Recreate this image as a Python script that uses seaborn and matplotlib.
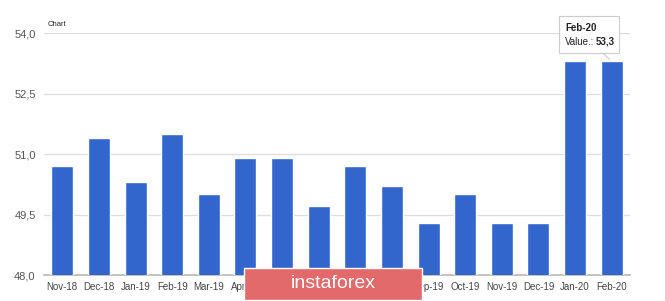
import matplotlib
matplotlib.use("Agg")
import matplotlib.pyplot as plt
import seaborn as sns
import pandas as pd

months = ["Nov-18", "Dec-18", "Jan-19", "Feb-19", "Mar-19", "Apr-19", "May-19", "Jun-19",
          "Jul-19", "Aug-19", "Sep-19", "Oct-19", "Nov-19", "Dec-19", "Jan-20", "Feb-20"]
values = [50.7, 51.4, 50.3, 51.5, 50.0, 50.9, 50.9, 49.7,
          50.7, 50.2, 49.3, 50.0, 49.3, 49.3, 53.3, 53.3]
yticks = [48.0, 49.5, 51.0, 52.5, 54.0]
ytick_labels = ["48,0", "49,5", "51,0", "52,5", "54,0"]

df = pd.DataFrame({"month": months, "value": values})

sns.set_theme(style="white")
plt.rcParams['font.family'] = ['Liberation Sans', 'DejaVu Sans']

fig = plt.figure(figsize=(6.65, 3.01), dpi=100)
ax = fig.add_axes([44/665, 1 - 275/301, (630 - 44)/665, (275 - 33)/301])

sns.barplot(data=df, x="month", y="value", color="#3366cc", saturation=1, width=0.6, ax=ax,
            zorder=3)
ax.set_ylim(48, 54)
ax.set_xlim(-0.5, len(months) - 0.5)
ax.set_yticks(yticks)
ax.set_yticklabels(ytick_labels)
ax.grid(axis="y", color="#dddddd", linewidth=0.9, zorder=0)
for s in ["top", "right", "left"]:
    ax.spines[s].set_visible(False)
ax.spines["bottom"].set_color("#bbbbbb")
ax.set_xlabel("")
ax.set_ylabel("")
ax.tick_params(axis="x", labelsize=7, colors="#444444", length=0, pad=5)
ax.tick_params(axis="y", labelsize=8, colors="#555555", length=0, pad=6)

fig.text(48/665, 1 - 25/301, "Chart", fontsize=5.5, color="#222222", va="center")

# tooltip
tip_x = ax.get_xticks()[-1]
ax.annotate("", xy=(tip_x, values[-1]), xytext=(tip_x - 0.3, 53.55),
            arrowprops=dict(arrowstyle="-", color="#cccccc", lw=0.8), zorder=5)
fig.patches.append(plt.Rectangle((559/665, 1 - 53/301), 60/665, 37/301, transform=fig.transFigure,
                                 facecolor="white", edgecolor="#cccccc", lw=0.8, zorder=6))
fig.text(565/665, 1 - 31/301, months[-1], fontsize=7, fontweight="bold", color="#222222",
         va="baseline", zorder=7)
fig.text(565/665, 1 - 45/301, "Value.:", fontsize=7, color="#222222", va="baseline", zorder=7)
fig.text(596/665, 1 - 45/301, "53,3", fontsize=7, fontweight="bold", color="#222222",
         va="baseline", zorder=7)

# watermark
fig.patches.append(plt.Rectangle((244/665, 1 - 300/301), 178/665, 32/301, transform=fig.transFigure,
                                 facecolor="#e26a6a", edgecolor="white", lw=1, zorder=6))
fig.text(333/665, 1 - 284/301, "instaforex", fontsize=14, color="white", ha="center",
         va="center", zorder=7)

fig.savefig("out.png", dpi=100)
